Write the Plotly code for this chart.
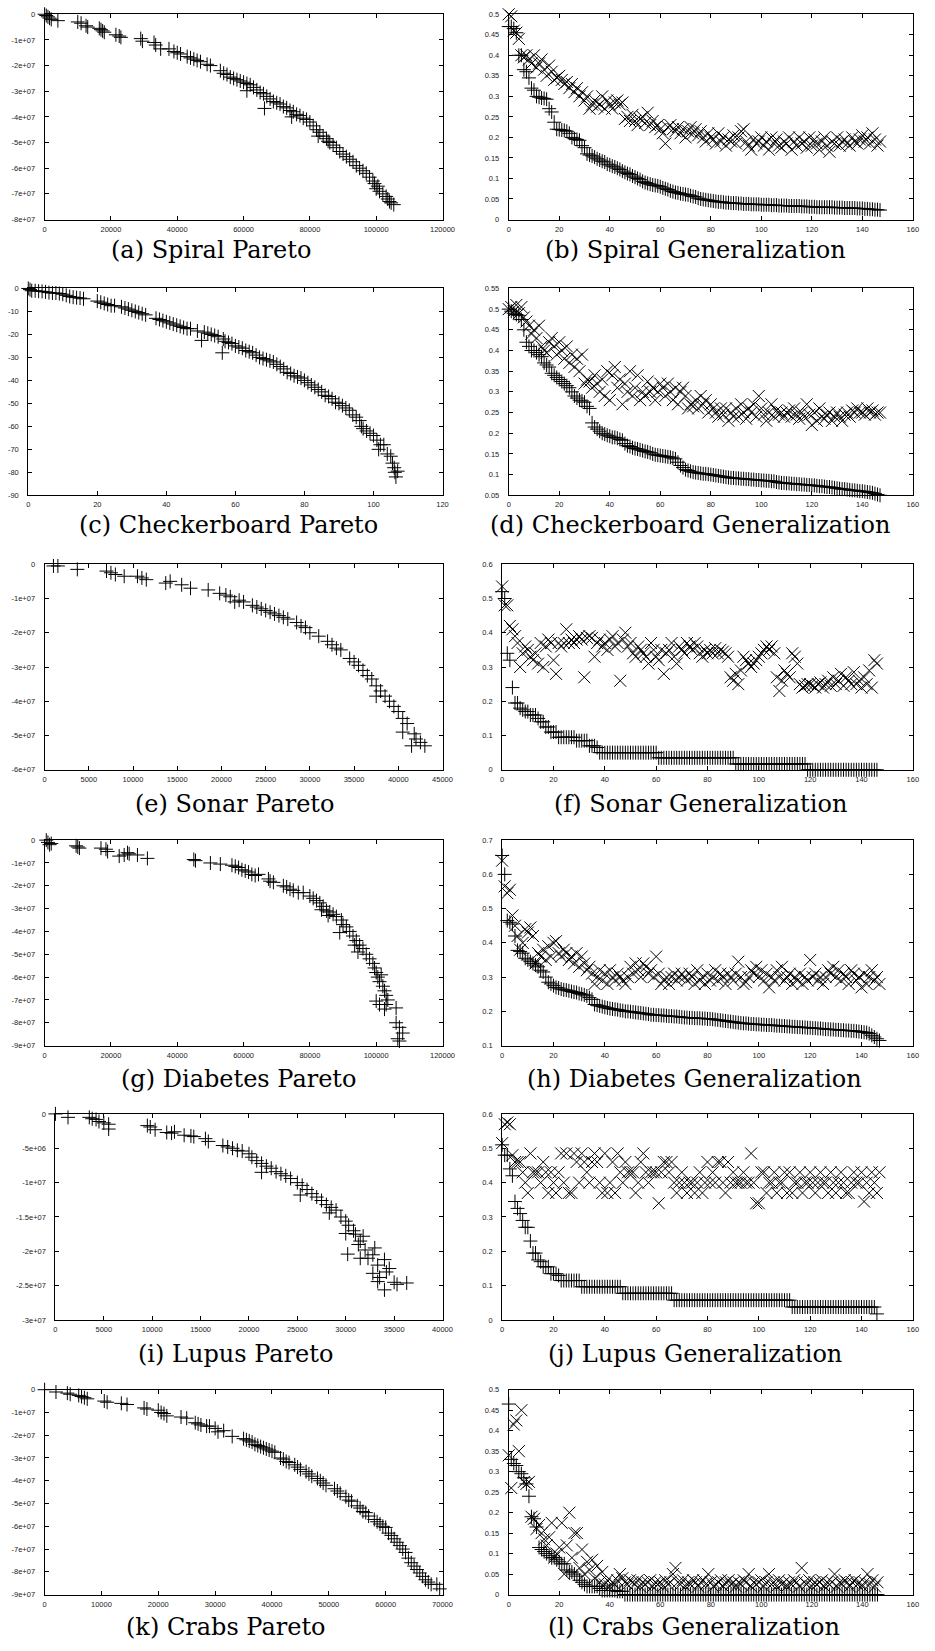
import plotly.graph_objects as go

W, H = 935, 1651

# ---------------- Pareto fronts ----------------
spiral_px = [0, 500, 1000, 1500, 2000, 4000, 10000, 11000, 12500, 13000, 16500, 17000, 17500, 18000, 21500, 22500, 23000,
             29000, 29500, 33000, 33500, 35000, 37500, 39000, 40000, 41000, 43000, 44000, 45000, 46000, 47000, 49000, 50000,
             53000, 54000, 55000, 56000, 57000, 58000, 59000, 60000, 61000, 61000, 62000, 63000, 64000, 65000, 66000, 66300,
             67000, 68000, 69000, 70000, 71000, 72000, 73000, 74000, 74500, 75000, 76000, 77000, 78000, 79000, 80000, 81000,
             82000, 82500, 83000, 84000, 85000, 85500, 86000, 87000, 88000, 89000, 90000, 91000, 92000, 93000, 94000, 95000,
             96000, 97000, 98000, 99000, 99500, 100000, 100500, 101000, 102000, 103000, 103500, 104000, 104500, 105300]
spiral_py = [0, -0.05e7, -0.1e7, -0.15e7, -0.2e7, -0.25e7, -0.3e7, -0.35e7, -0.45e7, -0.5e7, -0.55e7, -0.6e7, -0.65e7, -0.7e7,
             -0.8e7, -0.85e7, -0.9e7, -0.95e7, -1.05e7, -1.1e7, -1.2e7, -1.35e7, -1.35e7, -1.45e7, -1.5e7, -1.55e7, -1.65e7,
             -1.7e7, -1.75e7, -1.8e7, -1.85e7, -1.95e7, -2.0e7, -2.2e7, -2.3e7, -2.35e7, -2.45e7, -2.5e7, -2.55e7, -2.6e7,
             -2.65e7, -2.7e7, -2.98e7, -2.75e7, -2.85e7, -2.95e7, -3.05e7, -3.1e7, -3.67e7, -3.2e7, -3.3e7, -3.4e7, -3.45e7,
             -3.5e7, -3.6e7, -3.65e7, -3.75e7, -4.0e7, -3.8e7, -3.9e7, -3.95e7, -4.05e7, -4.1e7, -4.2e7, -4.35e7, -4.5e7,
             -4.75e7, -4.6e7, -4.75e7, -4.85e7, -4.95e7, -5.0e7, -5.1e7, -5.2e7, -5.35e7, -5.45e7, -5.55e7, -5.65e7, -5.75e7,
             -5.9e7, -6.0e7, -6.1e7, -6.2e7, -6.35e7, -6.5e7, -6.6e7, -6.8e7, -6.7e7, -6.9e7, -7.0e7, -7.1e7, -7.2e7, -7.3e7,
             -7.35e7, -7.42e7]

checker_px = [0, 0.5, 1, 2, 3, 4, 5, 6, 7, 8, 9, 10, 11, 12, 13, 14, 15, 16, 20, 21, 22, 23, 24, 25, 27, 28, 29, 30, 31, 32, 33,
              34, 37, 38, 39, 40, 41, 42, 43, 44, 45, 46, 47, 49, 50.2, 51, 52, 53, 54, 55, 56.2, 56.5, 57, 58, 59, 60, 61, 62,
              63, 64, 65, 66, 67, 68, 69, 70, 71, 72, 73, 74, 75, 76, 77, 78, 79, 80, 81, 82, 83, 84, 85, 86, 87, 88, 89, 90,
              91, 92, 93, 94, 95, 96, 96.5, 97, 98, 99, 100, 101, 101.5, 102, 103, 104, 105, 105.5, 106, 106.2, 106.5, 107]
checker_py = [0, -0.5, -1, -1, -1.2, -1.3, -1.5, -1.8, -2, -2, -2.2, -2.5, -3, -3.5, -3.8, -4, -4.2, -4.5, -5.5, -6, -6.5, -7,
              -7.5, -7.5, -8, -8.5, -9, -9.5, -10, -10.5, -11, -11.5, -13, -13.5, -14, -14.5, -15, -15.5, -16, -16.5, -17,
              -17.5, -17.5, -18.5, -22.6, -19, -19.5, -20, -20.5, -21, -28, -22, -23, -23.5, -24, -25, -25.5, -26, -27, -27.5,
              -28, -29, -30, -30.5, -31, -31.5, -32, -33, -34, -35, -36.5, -37, -38, -38.5, -39, -40, -41, -42, -43, -44, -45,
              -46.5, -47, -48, -49.5, -50, -51, -52, -53, -55, -56, -57.5, -60, -61, -62, -63, -64, -66, -70, -68, -68, -72,
              -73, -76, -78, -80, -82, -79.5]

sonar_px = [1000, 1500, 3700, 7000, 7500, 8000, 9000, 10500, 11000, 11500, 13700, 14200, 15500, 16500, 18500, 19800, 20500,
            21000, 21500, 22000, 22500, 23500, 24000, 24500, 25000, 25500, 26000, 26500, 27000, 27500, 28500, 29000, 29500,
            30000, 31000, 32000, 32500, 33000, 33500, 34500, 35000, 35500, 36000, 36500, 37000, 37500, 37500, 38000, 38500,
            39000, 39500, 40000, 40500, 40500, 41000, 41500, 41800, 42000, 42500, 43000]
sonar_py = [-0.05e7, -0.05e7, -0.15e7, -0.2e7, -0.25e7, -0.3e7, -0.35e7, -0.35e7, -0.4e7, -0.45e7, -0.55e7, -0.5e7, -0.6e7,
            -0.7e7, -0.75e7, -0.85e7, -0.9e7, -0.95e7, -1.1e7, -1.05e7, -1.1e7, -1.2e7, -1.25e7, -1.3e7, -1.35e7, -1.4e7,
            -1.45e7, -1.5e7, -1.55e7, -1.6e7, -1.7e7, -1.8e7, -1.85e7, -2.0e7, -2.1e7, -2.25e7, -2.35e7, -2.45e7, -2.5e7,
            -2.75e7, -2.85e7, -2.95e7, -3.1e7, -3.25e7, -3.35e7, -3.55e7, -3.85e7, -3.7e7, -3.85e7, -4.0e7, -4.15e7, -4.3e7,
            -4.5e7, -4.9e7, -4.65e7, -5.3e7, -4.95e7, -5.1e7, -5.2e7, -5.3e7]

diabetes_px = [500, 1000, 1500, 2000, 9500, 10000, 10500, 17000, 18500, 19000, 22500, 24000, 25000, 25500, 28000, 31000,
               45000, 45500, 50000, 53000, 56500, 57500, 58500, 59500, 60500, 61500, 62500, 63500, 64500, 67500, 68000, 69000,
               72000, 73000, 74000, 75000, 76500, 78000, 80000, 81000, 82000, 83000, 83500, 84000, 85000, 85500, 86000,
               87000, 88000, 89000, 89500, 90000, 91000, 92000, 93000, 93500, 94000, 94500, 95000, 96000, 97000, 98000,
               99000, 99500, 100000, 100500, 101000, 101500, 102000, 102500, 103000, 103000, 103500, 100000, 101000, 106000,
               106000, 107000, 108000, 106500, 107000, 102500]
diabetes_py = [0, -0.1e7, -0.2e7, -0.15e7, -0.25e7, -0.3e7, -0.35e7, -0.35e7, -0.4e7, -0.5e7, -0.7e7, -0.65e7, -0.55e7,
               -0.6e7, -0.65e7, -0.8e7, -0.85e7, -0.9e7, -1.0e7, -1.05e7, -1.1e7, -1.15e7, -1.2e7, -1.3e7, -1.35e7, -1.4e7,
               -1.5e7, -1.55e7, -1.5e7, -1.7e7, -1.8e7, -1.85e7, -2.0e7, -2.05e7, -2.15e7, -2.2e7, -2.3e7, -2.3e7, -2.45e7,
               -2.55e7, -2.65e7, -2.75e7, -3.05e7, -2.9e7, -3.1e7, -3.3e7, -3.15e7, -3.25e7, -3.35e7, -4.05e7, -3.5e7,
               -3.7e7, -3.8e7, -4.0e7, -4.2e7, -4.6e7, -4.4e7, -4.9e7, -4.6e7, -4.75e7, -5.0e7, -5.2e7, -5.4e7, -5.6e7,
               -5.8e7, -6.0e7, -6.2e7, -5.9e7, -6.4e7, -6.6e7, -6.8e7, -7.2e7, -7.0e7, -7.05e7, -7.2e7, -7.35e7, -8.0e7,
               -8.2e7, -8.45e7, -8.7e7, -8.8e7, -7.4e7]

lupus_px = [0, 1300, 3500, 3800, 4200, 4500, 5000, 5500, 5500, 9500, 9800, 10300, 11500, 12000, 12300, 13300, 14000, 14300,
            15500, 15800, 17300, 17800, 18300, 18800, 19300, 20000, 20300, 20800, 21300, 21300, 21800, 22300, 22800, 23300,
            23800, 24300, 25000, 25300, 25500, 26000, 26500, 27000, 27500, 28000, 28300, 28500, 29000, 29500, 30000, 30300,
            30800, 30000, 30200, 31000, 31300, 31500, 31800, 32000, 32300, 31500, 32800, 33000, 33300, 32800, 33300, 33500,
            34000, 34200, 34500, 34000, 35000, 35300, 36300]
lupus_py = [0, -0.5e6, -0.5e6, -0.7e6, -0.8e6, -1.1e6, -1.3e6, -1.5e6, -2.2e6, -1.7e6, -1.9e6, -2.3e6, -2.7e6, -2.8e6,
            -2.6e6, -3.1e6, -3.2e6, -3.3e6, -3.6e6, -4.0e6, -4.6e6, -4.8e6, -5.0e6, -5.3e6, -5.4e6, -5.8e6, -6.3e6, -6.8e6,
            -7.2e6, -8.5e6, -7.6e6, -7.9e6, -8.4e6, -8.7e6, -9.0e6, -9.4e6, -10.0e6, -11.8e6, -10.4e6, -11.0e6, -11.6e6,
            -12.1e6, -12.6e6, -13.2e6, -14.4e6, -13.6e6, -14.0e6, -15.0e6, -15.6e6, -16.2e6, -17.0e6, -17.4e6, -20.4e6,
            -17.5e6, -19.0e6, -18.5e6, -17.8e6, -19.8e6, -21.0e6, -21.0e6, -20.5e6, -19.5e6, -22.0e6, -23.2e6, -24.4e6,
            -23.8e6, -21.2e6, -23.0e6, -22.5e6, -25.6e6, -24.5e6, -24.8e6, -24.6e6]

crabs_px = [0, 2000, 4000, 4500, 6000, 6500, 7000, 7500, 10500, 11000, 13500, 14500, 17500, 18000, 20000, 20500, 21000,
            21500, 24000, 25000, 26500, 27000, 27500, 28500, 29000, 30000, 30500, 31500, 33000, 35000, 35500, 36000, 36500,
            37000, 37500, 38000, 38500, 39000, 39500, 40000, 40500, 41500, 42000, 42500, 43000, 44000, 44500, 45000, 46000,
            46500, 47000, 48000, 48500, 49000, 49500, 51000, 51500, 52000, 53000, 53500, 54000, 55000, 55500, 56000, 56500,
            57000, 58000, 58500, 59000, 59500, 60000, 60500, 61000, 61500, 62000, 62500, 63000, 63500, 64000, 64500, 65000,
            65500, 66000, 66500, 67000, 67500, 68000, 69000, 69500]
crabs_py = [0, -0.1e7, -0.15e7, -0.2e7, -0.25e7, -0.3e7, -0.35e7, -0.4e7, -0.5e7, -0.55e7, -0.6e7, -0.65e7, -0.8e7,
            -0.85e7, -0.9e7, -1.0e7, -1.05e7, -1.15e7, -1.2e7, -1.25e7, -1.45e7, -1.5e7, -1.55e7, -1.6e7, -1.6e7, -1.7e7,
            -1.85e7, -1.8e7, -2.05e7, -2.15e7, -2.2e7, -2.25e7, -2.3e7, -2.4e7, -2.45e7, -2.5e7, -2.55e7, -2.6e7, -2.65e7,
            -2.7e7, -2.75e7, -3.0e7, -3.05e7, -3.15e7, -3.2e7, -3.3e7, -3.4e7, -3.5e7, -3.6e7, -3.7e7, -3.8e7, -3.9e7,
            -4.0e7, -4.1e7, -4.2e7, -4.35e7, -4.45e7, -4.55e7, -4.7e7, -4.85e7, -4.9e7, -5.1e7, -5.2e7, -5.35e7, -5.4e7,
            -5.55e7, -5.7e7, -5.8e7, -5.9e7, -6.0e7, -6.05e7, -6.3e7, -6.4e7, -6.55e7, -6.7e7, -6.85e7, -7.0e7, -7.15e7,
            -7.4e7, -7.6e7, -7.75e7, -7.9e7, -8.05e7, -8.2e7, -8.35e7, -8.45e7, -8.55e7, -8.55e7, -8.75e7]

# ---------------- Generalization (train "+", test "x") ----------------
spiral_train = [0.47, 0.47, 0.465, 0.455, 0.40, 0.40, 0.365, 0.36, 0.345, 0.32,
                0.315, 0.30, 0.298, 0.296, 0.295, 0.293, 0.27, 0.262, 0.237, 0.22,
                0.219, 0.218, 0.217, 0.215, 0.21, 0.20, 0.197, 0.195, 0.193, 0.18,
                0.175, 0.16, 0.157, 0.155, 0.152, 0.148, 0.145, 0.142, 0.14, 0.135,
                0.133, 0.13, 0.128, 0.125, 0.122, 0.118, 0.115, 0.112, 0.11, 0.106,
                0.103, 0.1, 0.097, 0.093, 0.09, 0.088, 0.086, 0.084, 0.083, 0.082,
                0.08, 0.077, 0.075, 0.073, 0.07, 0.068, 0.066, 0.065, 0.063, 0.062,
                0.061, 0.06, 0.058, 0.056, 0.055, 0.052, 0.05, 0.049, 0.048, 0.047,
                0.046, 0.045, 0.044, 0.043, 0.043, 0.042, 0.041, 0.041, 0.04, 0.04,
                0.04, 0.039, 0.039, 0.038, 0.038, 0.038, 0.037, 0.037, 0.037, 0.037,
                0.036, 0.036, 0.036, 0.036, 0.035, 0.035, 0.035, 0.034, 0.034, 0.034,
                0.034, 0.033, 0.033, 0.033, 0.033, 0.033, 0.032, 0.032, 0.032, 0.031,
                0.031, 0.031, 0.03, 0.03, 0.03, 0.03, 0.03, 0.03, 0.03, 0.029,
                0.029, 0.029, 0.029, 0.028, 0.028, 0.028, 0.028, 0.028, 0.027, 0.027,
                0.027, 0.026, 0.026, 0.025, 0.025, 0.024, 0.024, 0.023]
spiral_test = [0.50, 0.495, 0.46, 0.455, 0.44, 0.40, 0.395, 0.40, 0.39, 0.38,
               0.40, 0.37, 0.38, 0.39, 0.365, 0.35, 0.375, 0.36, 0.34, 0.345,
               0.35, 0.34, 0.33, 0.335, 0.32, 0.33, 0.31, 0.32, 0.30, 0.31,
               0.29, 0.30, 0.27, 0.28, 0.29, 0.275, 0.28, 0.30, 0.27, 0.29,
               0.28, 0.27, 0.285, 0.29, 0.28, 0.285, 0.245, 0.25, 0.24, 0.255,
               0.24, 0.23, 0.245, 0.25, 0.235, 0.26, 0.23, 0.24, 0.225, 0.23,
               0.22, 0.21, 0.185, 0.225, 0.23, 0.22, 0.215, 0.225, 0.21, 0.22,
               0.20, 0.215, 0.225, 0.21, 0.22, 0.205, 0.215, 0.20, 0.19, 0.21,
               0.20, 0.195, 0.185, 0.21, 0.19, 0.2, 0.18, 0.195, 0.19, 0.205,
               0.185, 0.2, 0.215, 0.22, 0.19, 0.18, 0.17, 0.195, 0.185, 0.19,
               0.2, 0.18, 0.19, 0.17, 0.2, 0.185, 0.195, 0.18, 0.175, 0.19,
               0.185, 0.2, 0.17, 0.19, 0.18, 0.2, 0.185, 0.19, 0.175, 0.2,
               0.18, 0.195, 0.185, 0.17, 0.19, 0.2, 0.18, 0.165, 0.19, 0.185,
               0.2, 0.18, 0.19, 0.195, 0.185, 0.18, 0.2, 0.19, 0.185, 0.195,
               0.205, 0.19, 0.2, 0.185, 0.21, 0.195, 0.18, 0.19]

checker_train = [0.50, 0.495, 0.49, 0.487, 0.485, 0.475, 0.45, 0.42, 0.41, 0.40,
                 0.40, 0.395, 0.39, 0.385, 0.37, 0.365, 0.36, 0.345, 0.34, 0.335,
                 0.33, 0.325, 0.32, 0.315, 0.31, 0.30, 0.29, 0.285, 0.28, 0.278,
                 0.275, 0.265, 0.26, 0.225, 0.215, 0.21, 0.205, 0.2, 0.198, 0.195,
                 0.193, 0.19, 0.19, 0.188, 0.185, 0.183, 0.175, 0.17, 0.168, 0.165,
                 0.163, 0.162, 0.16, 0.158, 0.156, 0.155, 0.153, 0.15, 0.148, 0.147,
                 0.146, 0.145, 0.144, 0.143, 0.142, 0.14, 0.138, 0.13, 0.122, 0.117,
                 0.112, 0.11, 0.108, 0.106, 0.105, 0.104, 0.103, 0.102, 0.102, 0.101,
                 0.1, 0.099, 0.098, 0.097, 0.096, 0.095, 0.094, 0.093, 0.092, 0.092,
                 0.091, 0.091, 0.09, 0.09, 0.089, 0.089, 0.088, 0.088, 0.087, 0.087,
                 0.086, 0.086, 0.085, 0.085, 0.084, 0.084, 0.082, 0.081, 0.08, 0.08,
                 0.079, 0.079, 0.078, 0.078, 0.077, 0.077, 0.076, 0.076, 0.075, 0.075,
                 0.074, 0.074, 0.073, 0.072, 0.072, 0.071, 0.07, 0.07, 0.069, 0.068,
                 0.067, 0.066, 0.065, 0.065, 0.064, 0.063, 0.062, 0.062, 0.061, 0.06,
                 0.06, 0.059, 0.058, 0.057, 0.056, 0.054, 0.052, 0.05]
checker_test = [0.50, 0.505, 0.495, 0.51, 0.49, 0.505, 0.48, 0.47, 0.46, 0.44,
                0.45, 0.43, 0.46, 0.41, 0.40, 0.395, 0.42, 0.43, 0.41, 0.39,
                0.42, 0.40, 0.38, 0.41, 0.37, 0.39, 0.36, 0.38, 0.35, 0.39,
                0.32, 0.33, 0.325, 0.31, 0.34, 0.32, 0.30, 0.33, 0.29, 0.35,
                0.28, 0.34, 0.36, 0.31, 0.33, 0.27, 0.32, 0.30, 0.35, 0.29,
                0.31, 0.34, 0.28, 0.3, 0.29, 0.325, 0.3, 0.31, 0.28, 0.3,
                0.32, 0.31, 0.29, 0.32, 0.3, 0.28, 0.31, 0.27, 0.3, 0.31,
                0.29, 0.26, 0.27, 0.265, 0.28, 0.26, 0.29, 0.27, 0.28, 0.25,
                0.27, 0.26, 0.25, 0.24, 0.26, 0.245, 0.26, 0.23, 0.25, 0.24,
                0.26, 0.24, 0.27, 0.25, 0.235, 0.26, 0.25, 0.27, 0.24, 0.29,
                0.26, 0.245, 0.23, 0.25, 0.27, 0.24, 0.255, 0.245, 0.25, 0.24,
                0.25, 0.255, 0.24, 0.26, 0.245, 0.235, 0.25, 0.24, 0.27, 0.245,
                0.22, 0.25, 0.23, 0.26, 0.24, 0.235, 0.245, 0.25, 0.23, 0.24,
                0.25, 0.24, 0.23, 0.245, 0.25, 0.24, 0.255, 0.25, 0.26, 0.25,
                0.25, 0.245, 0.26, 0.25, 0.255, 0.245, 0.25, 0.25]

sonar_train = [0.52, 0.50, 0.34, 0.32, 0.24, 0.195, 0.195, 0.18, 0.175, 0.17,
               0.17, 0.16, 0.16, 0.16, 0.15, 0.14, 0.14, 0.125, 0.125, 0.11,
               0.11, 0.11, 0.095, 0.095, 0.095, 0.095, 0.095, 0.095, 0.095, 0.085,
               0.085, 0.085, 0.085, 0.085, 0.07, 0.07, 0.07, 0.065, 0.05, 0.05,
               0.05, 0.05, 0.05, 0.05, 0.05, 0.05, 0.05, 0.05, 0.05, 0.05,
               0.05, 0.05, 0.05, 0.05, 0.05, 0.05, 0.05, 0.05, 0.05, 0.05,
               0.05, 0.035, 0.035, 0.035, 0.035, 0.035, 0.035, 0.035, 0.035, 0.035,
               0.035, 0.035, 0.035, 0.035, 0.035, 0.035, 0.035, 0.035, 0.035, 0.035,
               0.035, 0.035, 0.035, 0.035, 0.035, 0.035, 0.035, 0.035, 0.035, 0.035,
               0.035, 0.017, 0.017, 0.017, 0.017, 0.017, 0.017, 0.017, 0.017, 0.017,
               0.017, 0.017, 0.017, 0.017, 0.017, 0.017, 0.017, 0.017, 0.017, 0.017,
               0.017, 0.017, 0.017, 0.017, 0.017, 0.017, 0.017, 0.017, 0.017, 0.0,
               0.0, 0.0, 0.0, 0.0, 0.0, 0.0, 0.0, 0.0, 0.0, 0.0,
               0.0, 0.0, 0.0, 0.0, 0.0, 0.0, 0.0, 0.0, 0.0, 0.0,
               0.0, 0.0, 0.0, 0.0, 0.0, 0.0, 0.0]
sonar_test = [0.535, 0.48, 0.48, 0.42, 0.41, 0.39, 0.37, 0.30, 0.34, 0.36,
              0.35, 0.33, 0.32, 0.34, 0.31, 0.37, 0.30, 0.36, 0.38, 0.37,
              0.32, 0.28, 0.37, 0.36, 0.37, 0.41, 0.37, 0.38, 0.37, 0.38,
              0.39, 0.38, 0.27, 0.385, 0.39, 0.385, 0.33, 0.37, 0.38, 0.36,
              0.37, 0.35, 0.38, 0.39, 0.36, 0.37, 0.26, 0.38, 0.40, 0.36,
              0.37, 0.34, 0.33, 0.36, 0.35, 0.34, 0.33, 0.31, 0.37, 0.35,
              0.33, 0.32, 0.35, 0.28, 0.34, 0.35, 0.37, 0.33, 0.31, 0.36,
              0.35, 0.34, 0.37, 0.36, 0.35, 0.37, 0.36, 0.34, 0.33, 0.35,
              0.34, 0.35, 0.34, 0.355, 0.34, 0.35, 0.345, 0.34, 0.33, 0.27,
              0.26, 0.28, 0.25, 0.29, 0.33, 0.32, 0.31, 0.30, 0.31, 0.32,
              0.33, 0.34, 0.35, 0.36, 0.35, 0.36, 0.34, 0.27, 0.23, 0.26,
              0.29, 0.28, 0.27, 0.34, 0.33, 0.31, 0.25, 0.24, 0.245, 0.25,
              0.25, 0.245, 0.24, 0.25, 0.255, 0.24, 0.25, 0.26, 0.245, 0.27,
              0.25, 0.26, 0.28, 0.245, 0.27, 0.26, 0.25, 0.285, 0.25, 0.26,
              0.24, 0.27, 0.25, 0.29, 0.24, 0.32, 0.31]

diabetes_train = [0.655, 0.60, 0.465, 0.46, 0.455, 0.42, 0.378, 0.375, 0.37, 0.355,
                  0.35, 0.345, 0.34, 0.335, 0.33, 0.32, 0.315, 0.30, 0.285, 0.28,
                  0.275, 0.27, 0.268, 0.265, 0.263, 0.262, 0.26, 0.258, 0.256, 0.255,
                  0.252, 0.25, 0.248, 0.245, 0.24, 0.235, 0.22, 0.218, 0.216, 0.214,
                  0.212, 0.21, 0.208, 0.207, 0.206, 0.205, 0.203, 0.202, 0.2, 0.2,
                  0.199, 0.198, 0.197, 0.196, 0.195, 0.194, 0.193, 0.192, 0.19, 0.19,
                  0.189, 0.189, 0.188, 0.188, 0.187, 0.186, 0.186, 0.185, 0.185, 0.184,
                  0.183, 0.182, 0.182, 0.181, 0.181, 0.18, 0.18, 0.18, 0.179, 0.179,
                  0.178, 0.178, 0.177, 0.176, 0.175, 0.174, 0.173, 0.172, 0.171, 0.17,
                  0.169, 0.168, 0.167, 0.166, 0.165, 0.165, 0.164, 0.163, 0.163, 0.162,
                  0.162, 0.161, 0.161, 0.16, 0.16, 0.16, 0.159, 0.158, 0.158, 0.157,
                  0.157, 0.156, 0.156, 0.155, 0.155, 0.154, 0.154, 0.153, 0.153, 0.152,
                  0.152, 0.151, 0.151, 0.15, 0.15, 0.149, 0.148, 0.148, 0.147, 0.147,
                  0.146, 0.146, 0.145, 0.145, 0.144, 0.144, 0.143, 0.143, 0.142, 0.141,
                  0.14, 0.139, 0.138, 0.135, 0.13, 0.125, 0.12, 0.115]
diabetes_test = [0.64, 0.565, 0.545, 0.555, 0.48, 0.45, 0.42, 0.38, 0.40, 0.44,
                 0.43, 0.445, 0.42, 0.34, 0.37, 0.36, 0.38, 0.35, 0.39, 0.36,
                 0.40, 0.405, 0.37, 0.36, 0.38, 0.37, 0.35, 0.36, 0.34, 0.37,
                 0.33, 0.36, 0.34, 0.32, 0.33, 0.31, 0.28, 0.30, 0.32, 0.29,
                 0.31, 0.28, 0.32, 0.30, 0.29, 0.31, 0.30, 0.29, 0.28, 0.30,
                 0.33, 0.31, 0.34, 0.32, 0.30, 0.34, 0.33, 0.31, 0.32, 0.30,
                 0.36, 0.31, 0.28, 0.29, 0.30, 0.28, 0.30, 0.31, 0.29, 0.30,
                 0.31, 0.30, 0.29, 0.31, 0.30, 0.28, 0.32, 0.29, 0.30, 0.28,
                 0.31, 0.29, 0.30, 0.32, 0.29, 0.31, 0.30, 0.28, 0.31, 0.30,
                 0.29, 0.31, 0.345, 0.30, 0.28, 0.285, 0.30, 0.32, 0.31, 0.33,
                 0.30, 0.32, 0.29, 0.31, 0.27, 0.30, 0.29, 0.32, 0.30, 0.33,
                 0.29, 0.30, 0.31, 0.28, 0.30, 0.29, 0.31, 0.28, 0.30, 0.29,
                 0.35, 0.30, 0.31, 0.29, 0.30, 0.28, 0.30, 0.32, 0.31, 0.33,
                 0.30, 0.32, 0.29, 0.31, 0.30, 0.28, 0.32, 0.31, 0.29, 0.30,
                 0.27, 0.31, 0.28, 0.30, 0.32, 0.29, 0.30, 0.28]

lupus_train = [0.51, 0.48, 0.48, 0.44, 0.42, 0.345, 0.325, 0.31, 0.29, 0.27,
               0.27, 0.23, 0.195, 0.195, 0.175, 0.17, 0.155, 0.155, 0.155, 0.135,
               0.135, 0.135, 0.13, 0.115, 0.115, 0.115, 0.115, 0.115, 0.115, 0.115,
               0.115, 0.097, 0.097, 0.097, 0.097, 0.097, 0.097, 0.097, 0.097, 0.097,
               0.097, 0.097, 0.097, 0.097, 0.097, 0.097, 0.097, 0.078, 0.078, 0.078,
               0.078, 0.078, 0.078, 0.078, 0.078, 0.078, 0.078, 0.078, 0.078, 0.078,
               0.078, 0.078, 0.078, 0.078, 0.078, 0.078, 0.078, 0.058, 0.058, 0.058,
               0.058, 0.058, 0.058, 0.058, 0.058, 0.058, 0.058, 0.058, 0.058, 0.058,
               0.058, 0.058, 0.058, 0.058, 0.058, 0.058, 0.058, 0.058, 0.058, 0.058,
               0.058, 0.058, 0.058, 0.058, 0.058, 0.058, 0.058, 0.058, 0.058, 0.058,
               0.058, 0.058, 0.058, 0.058, 0.058, 0.058, 0.058, 0.058, 0.058, 0.058,
               0.058, 0.058, 0.058, 0.038, 0.038, 0.038, 0.038, 0.038, 0.038, 0.038,
               0.038, 0.038, 0.038, 0.038, 0.038, 0.038, 0.038, 0.038, 0.038, 0.038,
               0.038, 0.038, 0.038, 0.038, 0.038, 0.038, 0.038, 0.038, 0.038, 0.038,
               0.038, 0.038, 0.038, 0.038, 0.038, 0.038, 0.018]
lupus_test = [0.515, 0.57, 0.575, 0.57, 0.48, 0.46, 0.46, 0.46, 0.43, 0.40,
              0.37, 0.485, 0.43, 0.43, 0.43, 0.40, 0.46, 0.43, 0.37, 0.43,
              0.40, 0.37, 0.43, 0.485, 0.40, 0.485, 0.37, 0.37, 0.485, 0.46,
              0.40, 0.485, 0.46, 0.43, 0.40, 0.46, 0.485, 0.46, 0.40, 0.37,
              0.485, 0.37, 0.40, 0.46, 0.37, 0.485, 0.43, 0.40, 0.46, 0.43,
              0.43, 0.43, 0.37, 0.40, 0.46, 0.485, 0.43, 0.40, 0.43, 0.43,
              0.43, 0.34, 0.43, 0.46, 0.46, 0.43, 0.46, 0.40, 0.37, 0.40,
              0.43, 0.40, 0.37, 0.40, 0.40, 0.37, 0.40, 0.43, 0.37, 0.40,
              0.46, 0.40, 0.43, 0.40, 0.46, 0.46, 0.40, 0.37, 0.46, 0.40,
              0.43, 0.40, 0.40, 0.40, 0.43, 0.40, 0.40, 0.485, 0.40, 0.34,
              0.34, 0.43, 0.43, 0.37, 0.40, 0.40, 0.43, 0.37, 0.40, 0.40,
              0.43, 0.37, 0.43, 0.37, 0.40, 0.40, 0.43, 0.37, 0.40, 0.40,
              0.43, 0.40, 0.37, 0.40, 0.43, 0.40, 0.40, 0.37, 0.43, 0.40,
              0.37, 0.40, 0.43, 0.40, 0.37, 0.37, 0.40, 0.43, 0.40, 0.40,
              0.43, 0.345, 0.40, 0.37, 0.43, 0.40, 0.37, 0.43]

crabs_train = [0.465, 0.33, 0.32, 0.315, 0.30, 0.295, 0.285, 0.27, 0.24, 0.19,
               0.185, 0.165, 0.115, 0.11, 0.105, 0.1, 0.095, 0.09, 0.09, 0.085,
               0.08, 0.075, 0.075, 0.06, 0.055, 0.055, 0.05, 0.045, 0.035, 0.03,
               0.025, 0.02, 0.02, 0.02, 0.02, 0.02, 0.015, 0.01, 0.01, 0.01,
               0.01, 0.01, 0.01, 0.008, 0.008, 0.008, 0.0, 0.0, 0.0, 0.0,
               0.0, 0.0, 0.0, 0.0, 0.0, 0.0, 0.0, 0.0, 0.0, 0.0,
               0.0, 0.0, 0.0, 0.0, 0.0, 0.0, 0.0, 0.0, 0.0, 0.0,
               0.0, 0.0, 0.0, 0.0, 0.0, 0.0, 0.0, 0.0, 0.0, 0.0,
               0.0, 0.0, 0.0, 0.0, 0.0, 0.0, 0.0, 0.0, 0.0, 0.0,
               0.0, 0.0, 0.0, 0.0, 0.0, 0.0, 0.0, 0.0, 0.0, 0.0,
               0.0, 0.0, 0.0, 0.0, 0.0, 0.0, 0.0, 0.0, 0.0, 0.0,
               0.0, 0.0, 0.0, 0.0, 0.0, 0.0, 0.0, 0.0, 0.0, 0.0,
               0.0, 0.0, 0.0, 0.0, 0.0, 0.0, 0.0, 0.0, 0.0, 0.0,
               0.0, 0.0, 0.0, 0.0, 0.0, 0.0, 0.0, 0.0, 0.0, 0.0,
               0.0, 0.0, 0.0, 0.0, 0.0, 0.0, 0.0]
crabs_test = [0.34, 0.26, 0.415, 0.425, 0.35, 0.45, 0.275, 0.27, 0.275, 0.19,
              0.185, 0.16, 0.17, 0.15, 0.135, 0.12, 0.14, 0.175, 0.09, 0.10,
              0.115, 0.175, 0.05, 0.12, 0.20, 0.09, 0.15, 0.15, 0.065, 0.11,
              0.05, 0.08, 0.06, 0.085, 0.04, 0.07, 0.03, 0.055, 0.025, 0.035,
              0.02, 0.03, 0.025, 0.035, 0.05, 0.04, 0.03, 0.025, 0.035, 0.03,
              0.025, 0.035, 0.02, 0.03, 0.025, 0.03, 0.035, 0.02, 0.03, 0.025,
              0.03, 0.02, 0.035, 0.025, 0.03, 0.05, 0.065, 0.03, 0.025, 0.035,
              0.02, 0.03, 0.025, 0.035, 0.03, 0.02, 0.03, 0.035, 0.025, 0.05,
              0.03, 0.02, 0.025, 0.03, 0.035, 0.02, 0.03, 0.035, 0.025, 0.03,
              0.02, 0.03, 0.025, 0.035, 0.03, 0.05, 0.02, 0.03, 0.025, 0.03,
              0.035, 0.02, 0.03, 0.05, 0.025, 0.03, 0.02, 0.035, 0.025, 0.03,
              0.02, 0.03, 0.025, 0.035, 0.03, 0.02, 0.065, 0.03, 0.025, 0.035,
              0.02, 0.03, 0.025, 0.03, 0.035, 0.02, 0.03, 0.025, 0.03, 0.05,
              0.02, 0.03, 0.025, 0.035, 0.03, 0.02, 0.03, 0.035, 0.025, 0.03,
              0.02, 0.03, 0.05, 0.025, 0.035, 0.02, 0.03]

# ---------------- tick labels ----------------
xt_120k = [0, 20000, 40000, 60000, 80000, 100000, 120000]
xt_120 = [0, 20, 40, 60, 80, 100, 120]
xt_45k = [0, 5000, 10000, 15000, 20000, 25000, 30000, 35000, 40000, 45000]
xt_40k = [0, 5000, 10000, 15000, 20000, 25000, 30000, 35000, 40000]
xt_70k = [0, 10000, 20000, 30000, 40000, 50000, 60000, 70000]
xt_160 = [0, 20, 40, 60, 80, 100, 120, 140, 160]

yt_8e7 = [0, -1e7, -2e7, -3e7, -4e7, -5e7, -6e7, -7e7, -8e7]
yl_8e7 = ["0", "-1e+07", "-2e+07", "-3e+07", "-4e+07", "-5e+07", "-6e+07", "-7e+07", "-8e+07"]
yt_9e7 = yt_8e7 + [-9e7]
yl_9e7 = yl_8e7 + ["-9e+07"]
yt_6e7 = [0, -1e7, -2e7, -3e7, -4e7, -5e7, -6e7]
yl_6e7 = ["0", "-1e+07", "-2e+07", "-3e+07", "-4e+07", "-5e+07", "-6e+07"]
yt_3e7 = [0, -5e6, -1e7, -1.5e7, -2e7, -2.5e7, -3e7]
yl_3e7 = ["0", "-5e+06", "-1e+07", "-1.5e+07", "-2e+07", "-2.5e+07", "-3e+07"]
yt_90 = [0, -10, -20, -30, -40, -50, -60, -70, -80, -90]
yl_90 = ["0", "-10", "-20", "-30", "-40", "-50", "-60", "-70", "-80", "-90"]
yt_05 = [0, 0.05, 0.1, 0.15, 0.2, 0.25, 0.3, 0.35, 0.4, 0.45, 0.5]
yl_05 = ["0", "0.05", "0.1", "0.15", "0.2", "0.25", "0.3", "0.35", "0.4", "0.45", "0.5"]
yt_055 = [0.05, 0.1, 0.15, 0.2, 0.25, 0.3, 0.35, 0.4, 0.45, 0.5, 0.55]
yl_055 = ["0.05", "0.1", "0.15", "0.2", "0.25", "0.3", "0.35", "0.4", "0.45", "0.5", "0.55"]
yt_06 = [0, 0.1, 0.2, 0.3, 0.4, 0.5, 0.6]
yl_06 = ["0", "0.1", "0.2", "0.3", "0.4", "0.5", "0.6"]
yt_07 = [0.1, 0.2, 0.3, 0.4, 0.5, 0.6, 0.7]
yl_07 = ["0.1", "0.2", "0.3", "0.4", "0.5", "0.6", "0.7"]

captions = ["(a) Spiral Pareto", "(b) Spiral Generalization", "(c) Checkerboard Pareto",
            "(d) Checkerboard Generalization", "(e) Sonar Pareto", "(f) Sonar Generalization",
            "(g) Diabetes Pareto", "(h) Diabetes Generalization", "(i) Lupus Pareto",
            "(j) Lupus Generalization", "(k) Crabs Pareto", "(l) Crabs Generalization"]

# panel geometry in pixels: (left, right, top, bottom, caption_x, caption_y)
geom = [
    (43.3, 447.7, 10.3, 216.7, 212, 247), (515, 925.7, 10.3, 216.7, 705, 247),
    (26.7, 447.7, 286, 494, 230, 524), (515, 925.7, 286, 494, 699, 524),
    (43.3, 447.7, 563.3, 770, 236, 804), (508.3, 925.7, 563.3, 770, 710, 804),
    (43.3, 447.7, 840.7, 1047.3, 240, 1081), (508.3, 925.7, 840.7, 1047.3, 704, 1081),
    (54.3, 447.7, 1116, 1323.3, 237, 1357), (508.3, 925.7, 1116, 1323.3, 704, 1357),
    (43.3, 447.7, 1393.3, 1599.3, 228, 1632), (515, 925.7, 1393.3, 1599.3, 703, 1632),
]

panels = [
    dict(kind="p", x=spiral_px, y=spiral_py, xr=[0, 120000], yr=[-8e7, 0], xt=xt_120k, yt=yt_8e7, yl=yl_8e7),
    dict(kind="g", tr=spiral_train, te=spiral_test, xr=[0, 160], yr=[0, 0.5], xt=xt_160, yt=yt_05, yl=yl_05),
    dict(kind="p", x=checker_px, y=checker_py, xr=[0, 120], yr=[-90, 0], xt=xt_120, yt=yt_90, yl=yl_90),
    dict(kind="g", tr=checker_train, te=checker_test, xr=[0, 160], yr=[0.05, 0.55], xt=xt_160, yt=yt_055, yl=yl_055),
    dict(kind="p", x=sonar_px, y=sonar_py, xr=[0, 45000], yr=[-6e7, 0], xt=xt_45k, yt=yt_6e7, yl=yl_6e7),
    dict(kind="g", tr=sonar_train, te=sonar_test, xr=[0, 160], yr=[0, 0.6], xt=xt_160, yt=yt_06, yl=yl_06),
    dict(kind="p", x=diabetes_px, y=diabetes_py, xr=[0, 120000], yr=[-9e7, 0], xt=xt_120k, yt=yt_9e7, yl=yl_9e7),
    dict(kind="g", tr=diabetes_train, te=diabetes_test, xr=[0, 160], yr=[0.1, 0.7], xt=xt_160, yt=yt_07, yl=yl_07),
    dict(kind="p", x=lupus_px, y=lupus_py, xr=[0, 40000], yr=[-3e7, 0], xt=xt_40k, yt=yt_3e7, yl=yl_3e7),
    dict(kind="g", tr=lupus_train, te=lupus_test, xr=[0, 160], yr=[0, 0.6], xt=xt_160, yt=yt_06, yl=yl_06),
    dict(kind="p", x=crabs_px, y=crabs_py, xr=[0, 70000], yr=[-9e7, 0], xt=xt_70k, yt=yt_9e7, yl=yl_9e7),
    dict(kind="g", tr=crabs_train, te=crabs_test, xr=[0, 160], yr=[0, 0.5], xt=xt_160, yt=yt_05, yl=yl_05),
]

TICKFONT = dict(family="Liberation Sans, Arial, sans-serif", size=7.5, color="#222")
PLUS = dict(symbol="cross-thin", size=10, color="black", line=dict(width=1, color="black"))
CROSS = dict(symbol="x-thin", size=12, color="black", line=dict(width=1, color="black"))

fig = go.Figure()
layout = dict(width=W, height=H, margin=dict(l=0, r=0, t=0, b=0), autosize=False,
              paper_bgcolor="white", plot_bgcolor="white", showlegend=False)
annotations = []

for i, (p, g) in enumerate(zip(panels, geom)):
    n = i + 1
    sfx = "" if n == 1 else str(n)
    xa, ya = "x" + sfx, "y" + sfx
    l, r, t, b, cx, cy = g
    common = dict(ticks="inside", ticklen=4, tickwidth=1, tickcolor="black", showline=True, linecolor="black",
                  linewidth=1, mirror="allticks", showgrid=False, zeroline=False, tickfont=TICKFONT,
                  tickmode="array")
    layout["xaxis" + sfx] = dict(common, domain=[l / W, r / W], range=p["xr"], tickvals=p["xt"],
                                 ticktext=[str(v) for v in p["xt"]], anchor=ya, ticklabelstandoff=2)
    layout["yaxis" + sfx] = dict(common, domain=[1 - b / H, 1 - t / H], range=p["yr"], tickvals=p["yt"],
                                 ticktext=p["yl"], anchor=xa, ticklabelstandoff=7)
    if p["kind"] == "p":
        fig.add_trace(go.Scatter(x=p["x"], y=p["y"], mode="markers", marker=PLUS, xaxis=xa, yaxis=ya,
                                 cliponaxis=False))
    else:
        fig.add_trace(go.Scatter(x=list(range(len(p["te"]))), y=p["te"], mode="markers", marker=CROSS,
                                 xaxis=xa, yaxis=ya, cliponaxis=False))
        fig.add_trace(go.Scatter(x=list(range(len(p["tr"]))), y=p["tr"], mode="markers", marker=PLUS,
                                 xaxis=xa, yaxis=ya, cliponaxis=False))
    annotations.append(dict(text=captions[i], xref="paper", yref="paper", x=cx / W, y=1 - cy / H,
                            xanchor="center", yanchor="middle", showarrow=False,
                            font=dict(family="DejaVu Serif, serif", size=24, color="black")))

layout["annotations"] = annotations
fig.update_layout(**layout)
fig.write_html("out.html", config={"displayModeBar": False, "staticPlot": True},
               post_script="document.body.style.margin='0px';document.body.style.overflow='hidden';")
